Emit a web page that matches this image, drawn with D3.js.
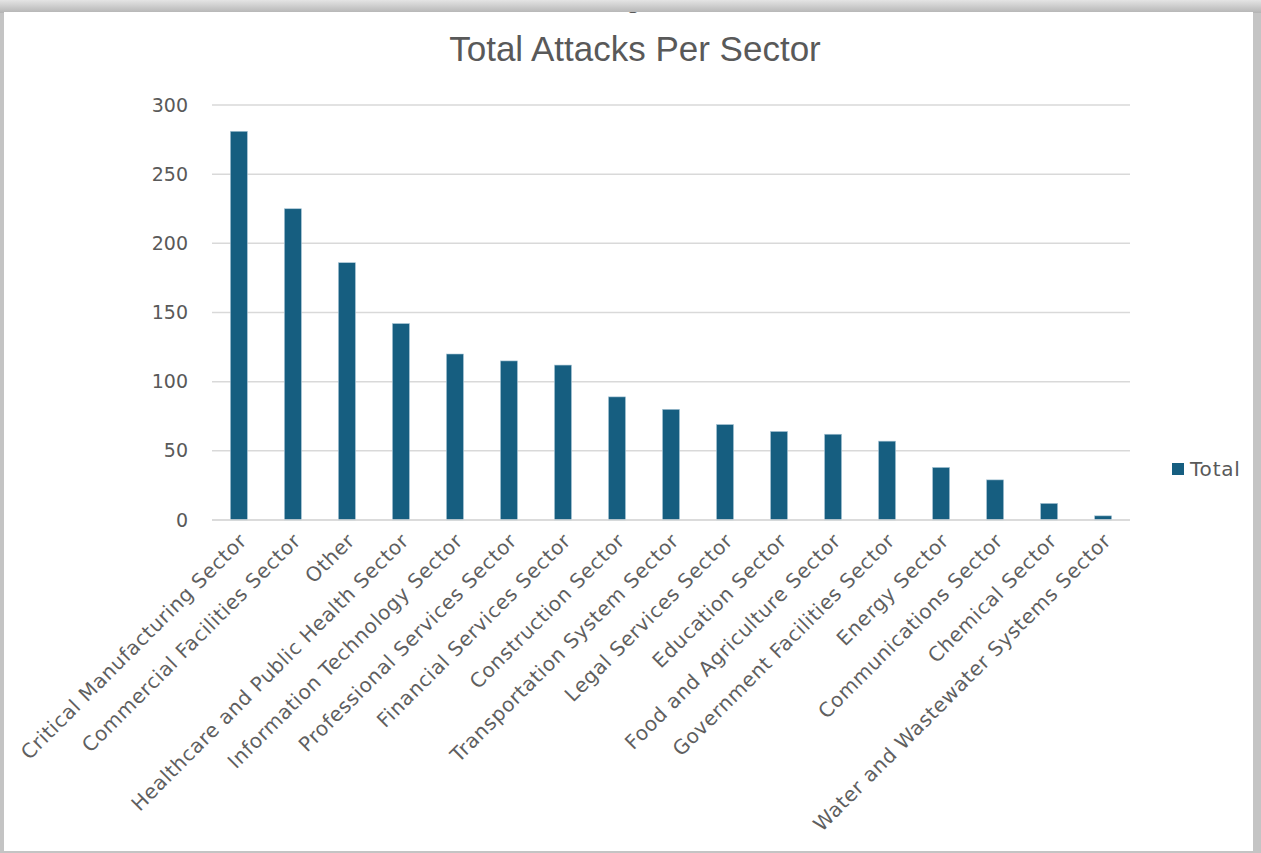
<!doctype html>
<html>
<head>
    <meta charset="UTF-8">
    <title>Total Attacks Per Sector</title>
    <style>
        body { margin: 0; background: #ffffff; }
        .tick text { font-family: "DejaVu Sans", sans-serif; }
    </style>
    <script src="https://cdn.jsdelivr.net/npm/d3@7"></script>
</head>
<body>
    <svg id="chart" width="1261" height="853"></svg>

<script>
// data
var sectors = [
    "Critical Manufacturing Sector",
    "Commercial Facilities Sector",
    "Other",
    "Healthcare and Public Health Sector",
    "Information Technology Sector",
    "Professional Services Sector",
    "Financial Services Sector",
    "Construction Sector",
    "Transportation System Sector",
    "Legal Services Sector",
    "Education Sector",
    "Food and Agriculture Sector",
    "Government Facilities Sector",
    "Energy Sector",
    "Communications Sector",
    "Chemical Sector",
    "Water and Wastewater Systems Sector"
];
var totals = [281, 225, 186, 142, 120, 115, 112, 89, 80, 69, 64, 62, 57, 38, 29, 12, 3];
var yTicks = [0, 50, 100, 150, 200, 250, 300];
var seriesName = "Total";

var svg = d3.select("#chart");
var W = +svg.attr("width"), H = +svg.attr("height");

// grey frame round the white card
var defs = svg.append("defs");
var grad = defs.append("linearGradient").attr("id", "topfade")
    .attr("x1", 0).attr("y1", 0).attr("x2", 0).attr("y2", 1);
grad.append("stop").attr("offset", "0%").attr("stop-color", "#e4e4e4");
grad.append("stop").attr("offset", "100%").attr("stop-color", "#b4b4b4");

svg.append("rect").attr("width", W).attr("height", H).attr("fill", "#c4c4c4");
svg.append("rect").attr("width", W).attr("height", 13).attr("fill", "url(#topfade)");
svg.append("rect").attr("x", 4).attr("y", 12).attr("width", 1249).attr("height", 839)
    .attr("fill", "#ffffff");

// bit of a cut off glyph at the top edge
defs.append("clipPath").attr("id", "cardclip")
    .append("rect").attr("x", 4).attr("y", 12).attr("width", 1249).attr("height", 839);
svg.append("text").attr("clip-path", "url(#cardclip)")
    .attr("x", 626).attr("y", 8)
    .attr("font-family", "Liberation Sans, sans-serif").attr("font-size", 26)
    .attr("fill", "#595959").text("g");

// title
svg.append("text")
    .attr("x", 635).attr("y", 61)
    .attr("text-anchor", "middle")
    .attr("font-family", "Liberation Sans, sans-serif")
    .attr("font-size", 35)
    .attr("fill", "#595959")
    .text("Total Attacks Per Sector");

var plotLeft = 212, plotRight = 1130, plotTop = 105, plotBottom = 520;

var x = d3.scaleBand().domain(sectors).range([plotLeft, plotLeft + 54 * sectors.length])
    .paddingInner(0.685).paddingOuter(0.34);
var y = d3.scaleLinear().domain([0, 300]).range([plotBottom, plotTop]);

// gridlines
svg.append("g").selectAll("line")
    .data(yTicks)
    .enter().append("line")
        .attr("x1", plotLeft).attr("x2", plotRight)
        .attr("y1", function(d) { return y(d); })
        .attr("y2", function(d) { return y(d); })
        .attr("stroke", "#d9d9d9")
        .attr("stroke-width", 1.5);

// y axis labels
var yAxis = svg.append("g")
    .attr("transform", "translate(" + (plotLeft - 24) + ",0)")
    .call(d3.axisLeft(y).tickValues(yTicks).tickSize(0).tickPadding(0));
yAxis.select(".domain").remove();
yAxis.selectAll("text")
    .attr("font-size", 19)
    .attr("fill", "#595959");

// bars
svg.append("g").selectAll("rect")
    .data(sectors)
    .enter().append("rect")
        .attr("x", function(d) { return x(d); })
        .attr("width", x.bandwidth())
        .attr("y", function(d, i) { return y(totals[i]); })
        .attr("height", function(d, i) { return plotBottom - y(totals[i]); })
        .attr("fill", "#165e80")
        .attr("stroke", "#a9c6d6")
        .attr("stroke-width", 0.6);

// x axis line over the bar bottoms
svg.append("line")
    .attr("x1", plotLeft).attr("x2", plotRight)
    .attr("y1", plotBottom).attr("y2", plotBottom)
    .attr("stroke", "#d9d9d9").attr("stroke-width", 1.5);

// category labels, turned 45 degrees
var xAxis = svg.append("g")
    .attr("transform", "translate(0," + plotBottom + ")")
    .call(d3.axisBottom(x).tickSize(0).tickPadding(0));
xAxis.select(".domain").remove();
xAxis.selectAll("text")
    .attr("font-size", 20)
    .attr("letter-spacing", "0.6px")
    .attr("fill", "#5f5f5f")
    .attr("text-anchor", "end")
    .attr("dy", "0")
    .attr("transform", "translate(9,22) rotate(-45)");

// legend
var legend = svg.append("g").attr("transform", "translate(1172,463)");
legend.append("rect").attr("width", 12).attr("height", 12).attr("fill", "#165e80");
legend.append("text")
    .attr("x", 18).attr("y", 13)
    .attr("font-family", "DejaVu Sans, sans-serif")
    .attr("font-size", 20)
    .attr("letter-spacing", "0.8px")
    .attr("fill", "#595959")
    .text(seriesName);
</script>
</body>
</html>
